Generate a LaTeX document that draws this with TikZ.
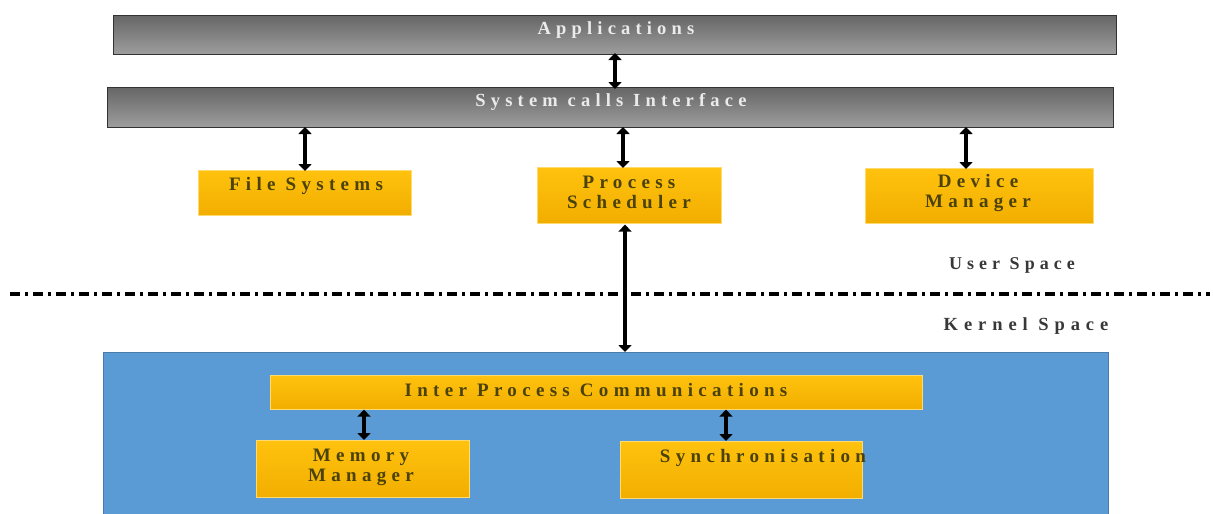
\documentclass[tikz,border=0pt]{standalone}
\usepackage{fontspec}
\setmainfont{Liberation Serif}
\newfontfamily\spaced{Liberation Serif}[LetterSpace=28]
\newfontfamily\spacedn{Liberation Serif}[LetterSpace=32]
\usetikzlibrary{arrows.meta}
\definecolor{ybox}{HTML}{FFC20E}
\definecolor{ybot}{HTML}{F2AE00}
\definecolor{ytext}{HTML}{4A4208}
\definecolor{kblue}{HTML}{5B9BD5}
\tikzset{
  x=1pt,y=-1pt,
  graybar/.style={draw=black!80, line width=1pt, top color=black!60, bottom color=black!38, rectangle, inner sep=0pt},
  ybox/.style={rectangle, top color=ybox, bottom color=ybot, draw=ybox!60!white, line width=0.6pt, inner sep=0pt},
  btxt/.style={font=\spaced\bfseries\fontsize{18.5}{20}\selectfont, text=white!92!black},
  ytxt/.style={font=\spaced\bfseries\fontsize{19}{20}\selectfont, text=ytext, align=center},
  stxt/.style={font=\spaced\bfseries\fontsize{18}{19}\selectfont, text=black!78},
  ktxt/.style={font=\spacedn\bfseries\fontsize{18.5}{19}\selectfont, text=black!78},
  dbl/.style={line width=4pt, {Triangle[length=7pt,width=13pt]}-{Triangle[length=7pt,width=13pt]}},
}
\begin{document}
\begin{tikzpicture}
\useasboundingbox (0,0) rectangle (1213,514);
% gray bars
\node[graybar, minimum width=1003, minimum height=39, anchor=north west] (app) at (113,15) {};
\node[btxt] (apptxt) at (616,30) {Applications};
\node[graybar, minimum width=1006, minimum height=40, anchor=north west] (sci) at (107,87) {};
\node[btxt] (scitxt) at (611,102) {System calls Interface};
% user space boxes
\node[ybox, minimum width=213, minimum height=45, anchor=north west] (fs) at (198,170) {};
\node[ytxt] (fstxt) at (306,186) {File Systems};
\node[ybox, minimum width=184, minimum height=56, anchor=north west] (ps) at (537,167) {};
\node[ytxt] (pstxt) at (629,192) {Process\\Scheduler};
\node[ybox, minimum width=228, minimum height=55, anchor=north west] (dm) at (865,168) {};
\node[ytxt] (dmtxt) at (978,193) {Device\\Manager};
% labels
\node[stxt] (us) at (1012,265) {User Space};
\node[ktxt] (ks) at (1026,326) {Kernel Space};
% separator
\coordinate (sl) at (10,294);
\coordinate (sr) at (1210,294);
\draw[line width=3.5pt, dash pattern=on 10pt off 5pt on 3pt off 5pt] (sl) -- (sr);
% kernel box
\node[rectangle, fill=kblue, draw=kblue!80!black, line width=0.5pt, minimum width=1005, minimum height=164, anchor=north west, inner sep=0pt] (kern) at (103,352) {};
\node[ybox, minimum width=652, minimum height=34, anchor=north west] (ipc) at (270,375) {};
\node[ytxt] (ipctxt) at (596,390) {Inter Process Communications};
\node[ybox, minimum width=213, minimum height=57, anchor=north west] (mm) at (256,440) {};
\node[ytxt] (mmtxt) at (361,467) {Memory\\Manager};
\node[ybox, minimum width=242, minimum height=57, anchor=north west] (sy) at (620,441) {};
\node[ytxt] (sytxt) at (763,458) {Synchronisation};
% arrows
\draw[dbl] ([yshift=2pt]app.south -| 615,0) -- ([yshift=-2pt]sci.north -| 615,0);
\draw[dbl] ([yshift=1pt]sci.south -| 305,0) -- ([yshift=-1pt]fs.north -| 305,0);
\draw[dbl] ([yshift=1pt]sci.south -| 623,0) -- ([yshift=-1pt]ps.north -| 623,0);
\draw[dbl] ([yshift=1pt]sci.south -| 966,0) -- ([yshift=-1pt]dm.north -| 966,0);
\draw[dbl] ([yshift=-1pt]ps.south -| 625,0) -- (kern.north -| 625,0);
\draw[dbl] (ipc.south -| 364,0) -- (mm.north -| 364,0);
\draw[dbl] (ipc.south -| 726,0) -- (sy.north -| 726,0);
\end{tikzpicture}
\end{document}
